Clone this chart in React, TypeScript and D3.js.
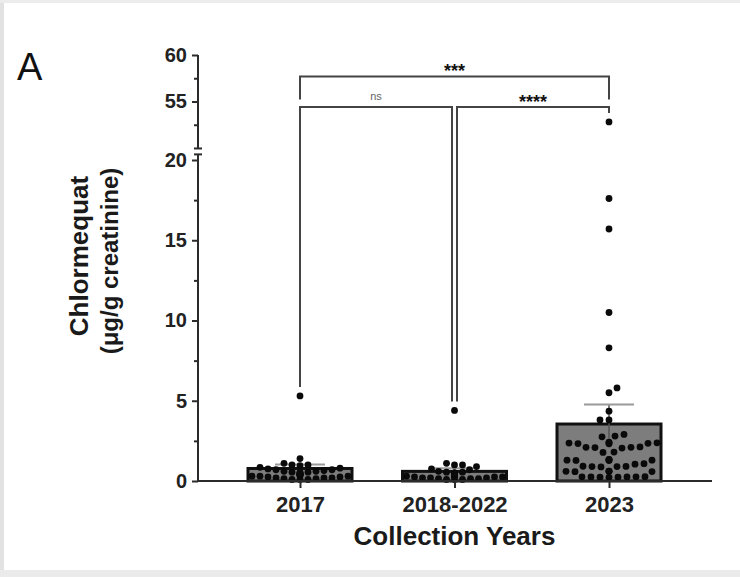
import React, { useEffect, useRef } from "react";
import * as d3 from "d3";

// chart values
const categories = ["2017", "2018-2022", "2023"];
const barMeans = [0.78, 0.6, 3.55];
const barSem = [0.25, 0.2, 1.22];

const points2017 = [5.3, 1.4, 1.1, 1.0, 1.0, 0.95, 0.85, 0.8, 0.75, 0.7, 0.7, 0.65, 0.6, 0.6, 0.55, 0.55, 0.5, 0.5, 0.5, 0.45, 0.45, 0.4, 0.4, 0.4, 0.35, 0.35, 0.3, 0.3, 0.3, 0.25, 0.25, 0.2, 0.2, 0.2, 0.15, 0.15, 0.1, 0.1, 0.1];
const points2018to2022 = [4.4, 1.1, 1.0, 1.0, 0.9, 0.75, 0.7, 0.6, 0.55, 0.55, 0.5, 0.5, 0.45, 0.45, 0.4, 0.4, 0.4, 0.35, 0.35, 0.3, 0.3, 0.3, 0.25, 0.25, 0.25, 0.2, 0.2, 0.2, 0.15, 0.15, 0.15, 0.1, 0.1, 0.1];
const points2023 = [52.8, 17.6, 15.7, 10.5, 8.3, 5.8, 5.5, 4.35, 3.8, 3.8, 2.9, 2.8, 2.75, 2.4, 2.38, 2.35, 2.33, 2.36, 2.4, 2.32, 2.1, 2.12, 2.08, 2.1, 2.05, 1.8, 1.78, 1.35, 1.3, 1.32, 1.28, 1.3, 1.33, 1.27, 1.05, 1.08, 0.9, 0.92, 0.88, 0.9, 0.91, 0.6, 0.62, 0.58, 0.6, 0.61, 0.59, 0.25, 0.27, 0.24, 0.26, 0.25, 0.23, 0.26, 0.24];
const groupPoints = [points2017, points2018to2022, points2023];

const yTicksLow = [0, 5, 10, 15, 20];
const yMinorLow = [2.5, 7.5, 12.5, 17.5];
const yTicksHigh = [55, 60];
const yMinorHigh = [52.5, 57.5];

const comparisons = [
    { a: 0, b: 2, label: "***", level: 0 },
    { a: 0, b: 1, label: "ns", level: 1 },
    { a: 1, b: 2, label: "****", level: 1 },
];

const FONT = '"Liberation Sans", Arial, sans-serif';

const App = () => {
    const ref = useRef<SVGSVGElement>(null);

    useEffect(() => {
        const svg = d3.select(ref.current).attr("width", 740).attr("height", 577);
        svg.selectAll("*").remove();

        // background + photographed frame edges
        svg.append("rect").attr("width", 740).attr("height", 577).attr("fill", "white");
        svg.append("rect").attr("x", 0).attr("y", 0).attr("width", 4).attr("height", 577).attr("fill", "#e2e2e2");
        svg.append("rect").attr("x", 0).attr("y", 0).attr("width", 740).attr("height", 3).attr("fill", "#ececec");
        svg.append("rect").attr("x", 0).attr("y", 570).attr("width", 740).attr("height", 7).attr("fill", "#ebebeb");

        const axisX = 198;
        const x = d3.scalePoint<string>().domain(categories).range([300, 609]);
        const yLow = d3.scaleLinear().domain([0, 20]).range([481, 160]);
        const yHigh = d3.scaleLinear().domain([50, 60]).range([148, 55]);
        const yOf = (v: number) => (v > 20 ? yHigh(v) : yLow(v));
        const barW = 104;

        // panel letter
        svg.append("text")
            .attr("x", 17).attr("y", 80)
            .attr("font-family", FONT).attr("font-size", 38)
            .attr("fill", "#111")
            .text("A");

        // y axis: two segments
        const axisColor = "#2b2b2b";
        const yAxisG = svg.append("g").attr("id", "yaxis");
        yAxisG.append("line")
            .attr("x1", axisX).attr("x2", axisX)
            .attr("y1", yLow(0)).attr("y2", yLow(20.35))
            .attr("stroke", axisColor).attr("stroke-width", 2);
        yAxisG.append("line")
            .attr("x1", axisX).attr("x2", axisX)
            .attr("y1", yHigh(49.95)).attr("y2", yHigh(60))
            .attr("stroke", axisColor).attr("stroke-width", 2);
        // break caps
        yAxisG.append("line")
            .attr("x1", axisX - 4).attr("x2", axisX + 4)
            .attr("y1", yLow(20.35)).attr("y2", yLow(20.35))
            .attr("stroke", axisColor).attr("stroke-width", 2);
        yAxisG.append("line")
            .attr("x1", axisX - 4).attr("x2", axisX + 4)
            .attr("y1", yHigh(49.95)).attr("y2", yHigh(49.95))
            .attr("stroke", axisColor).attr("stroke-width", 2);

        const styleAxis = (g: d3.Selection<SVGGElement, unknown, null, undefined>) => {
            g.select(".domain").remove();
            g.selectAll("line").attr("stroke", axisColor).attr("stroke-width", 2);
            g.selectAll("text")
                .attr("fill", "#222")
                .attr("font-family", FONT)
                .attr("font-weight", "bold")
                .attr("font-size", 20);
        };

        const gLow = svg.append("g").attr("transform", `translate(${axisX},0)`)
            .call(d3.axisLeft(yLow).tickValues(yTicksLow).tickSize(6).tickPadding(5).tickFormat(d3.format("d")));
        styleAxis(gLow);
        const gLowMinor = svg.append("g").attr("transform", `translate(${axisX},0)`)
            .call(d3.axisLeft(yLow).tickValues(yMinorLow).tickSize(4).tickFormat(() => ""));
        styleAxis(gLowMinor);
        const gHigh = svg.append("g").attr("transform", `translate(${axisX},0)`)
            .call(d3.axisLeft(yHigh).tickValues(yTicksHigh).tickSize(6).tickPadding(5).tickFormat(d3.format("d")));
        styleAxis(gHigh);
        const gHighMinor = svg.append("g").attr("transform", `translate(${axisX},0)`)
            .call(d3.axisLeft(yHigh).tickValues(yMinorHigh).tickSize(4).tickFormat(() => ""));
        styleAxis(gHighMinor);

        // y title
        svg.append("text")
            .attr("transform", "translate(88,256) rotate(-90)")
            .attr("text-anchor", "middle")
            .attr("font-family", FONT).attr("font-weight", "bold").attr("font-size", 26)
            .attr("fill", "#1a1a1a")
            .text("Chlormequat");
        svg.append("text")
            .attr("transform", "translate(118,261) rotate(-90)")
            .attr("text-anchor", "middle")
            .attr("font-family", FONT).attr("font-weight", "bold").attr("font-size", 24)
            .attr("fill", "#1a1a1a")
            .text("(μg/g creatinine)");

        // bars
        const bars = svg.append("g").attr("id", "bars");
        categories.forEach((c, i) => {
            bars.append("rect")
                .attr("x", (x(c) as number) - barW / 2)
                .attr("y", yLow(barMeans[i]))
                .attr("width", barW)
                .attr("height", yLow(0) - yLow(barMeans[i]))
                .attr("fill", "#7d7d7d")
                .attr("stroke", "#111")
                .attr("stroke-width", 3);
        });

        // error bars (mean ± SEM)
        categories.forEach((c, i) => {
            const cx = x(c) as number;
            bars.append("line")
                .attr("x1", cx).attr("x2", cx)
                .attr("y1", yLow(barMeans[i] - barSem[i])).attr("y2", yLow(barMeans[i] + barSem[i]))
                .attr("stroke", "#555").attr("stroke-width", 1.5);
            bars.append("line")
                .attr("x1", cx - 25).attr("x2", cx + 25)
                .attr("y1", yLow(barMeans[i] + barSem[i])).attr("y2", yLow(barMeans[i] + barSem[i]))
                .attr("stroke", "#9a9a9a").attr("stroke-width", 2);
        });

        // scatter points, swarm layout so dots do not pile up
        const r = 3.4;
        const minDist = [7.2, 7.2, 8.6];
        const maxOff = 48;
        const dots = svg.append("g").attr("id", "dots");
        groupPoints.forEach((vals, i) => {
            const cx = x(categories[i]) as number;
            const placed: { x: number; y: number }[] = [];
            const md = minDist[i];
            [...vals].sort((a, b) => a - b).forEach((v) => {
                const py = yOf(v);
                let off = 0;
                let ok = false;
                for (let k = 0; k <= maxOff && !ok; k++) {
                    const cands = k === 0 ? [0] : (placed.length % 2 ? [k, -k] : [-k, k]);
                    for (const s of cands) {
                        if (placed.every((p) => (p.x - s) ** 2 + (p.y - py) ** 2 >= md * md)) {
                            off = s;
                            ok = true;
                            break;
                        }
                    }
                }
                placed.push({ x: off, y: py });
                dots.append("circle")
                    .attr("cx", cx + off)
                    .attr("cy", py)
                    .attr("r", r)
                    .attr("fill", "#0a0a0a");
            });
        });

        // x axis
        svg.append("line")
            .attr("x1", axisX - 1).attr("x2", 712)
            .attr("y1", yLow(0)).attr("y2", yLow(0))
            .attr("stroke", axisColor).attr("stroke-width", 2);
        const gx = svg.append("g").attr("transform", `translate(0,${yLow(0)})`)
            .call(d3.axisBottom(x).tickSize(7).tickPadding(8));
        styleAxis(gx);
        gx.selectAll("text").attr("font-size", 22);

        svg.append("text")
            .attr("x", (x(categories[0]) as number + (x(categories[2]) as number)) / 2)
            .attr("y", 545)
            .attr("text-anchor", "middle")
            .attr("font-family", FONT).attr("font-weight", "bold").attr("font-size", 26)
            .attr("fill", "#1a1a1a")
            .text("Collection Years");

        // significance brackets
        const levelValue = [57.7, 54.4];
        const sig = svg.append("g").attr("id", "sig");
        comparisons.forEach((cmp) => {
            const shared = (idx: number) =>
                comparisons.filter((o) => o.level === cmp.level && (o.a === idx || o.b === idx)).length > 1;
            const x1 = (x(categories[cmp.a]) as number) + (shared(cmp.a) ? 2.5 : 0);
            const x2 = (x(categories[cmp.b]) as number) - (shared(cmp.b) ? 2.5 : 0);
            const yl = yHigh(levelValue[cmp.level]);
            const drop = (idx: number) =>
                cmp.level === 0 ? yl + 23 : yOf(d3.max(groupPoints[idx]) as number) - 9;
            const p = d3.path();
            p.moveTo(x1, drop(cmp.a));
            p.lineTo(x1, yl);
            p.lineTo(x2, yl);
            p.lineTo(x2, drop(cmp.b));
            sig.append("path")
                .attr("d", p.toString())
                .attr("fill", "none")
                .attr("stroke", "#444")
                .attr("stroke-width", 2);
            const isNs = cmp.label === "ns";
            sig.append("text")
                .attr("x", (x1 + x2) / 2)
                .attr("y", isNs ? yl - 7 : yl + 1)
                .attr("text-anchor", "middle")
                .attr("font-family", FONT)
                .attr("font-weight", isNs ? "normal" : "bold")
                .attr("font-size", isNs ? 11 : 18)
                .attr("fill", isNs ? "#666" : "#111")
                .text(cmp.label);
        });
    }, []);

    return (
        <svg ref={ref} style={{ position: "absolute", left: 0, top: 0, display: "block" }}></svg>
    );
};

export default App;
